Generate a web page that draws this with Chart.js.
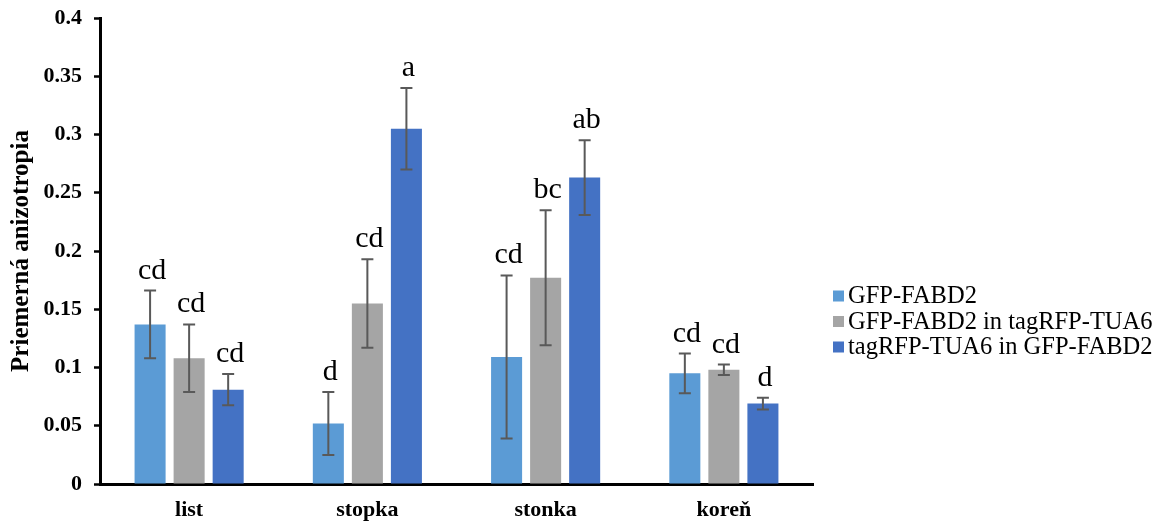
<!DOCTYPE html>
<html>
<head>
<meta charset="utf-8">
<script src="https://cdn.jsdelivr.net/npm/chart.js@4.4.1/dist/chart.umd.min.js"></script>
<style>
  html, body { margin: 0; padding: 0; background: #fff; }
  #wrap { width: 1167px; height: 525px; }
</style>
</head>
<body>
<div id="wrap"><canvas id="myChart" width="1167" height="525"></canvas></div>
<script>
var categories = ["list", "stopka", "stonka", "koreň"];
var seriesNames = ["GFP-FABD2", "GFP-FABD2 in tagRFP-TUA6", "tagRFP-TUA6 in GFP-FABD2"];

var gfpValues = [0.137, 0.052, 0.109, 0.095];
var gfpErrors = [0.029, 0.027, 0.070, 0.017];
var gfpLetters = ["cd", "d", "cd", "cd"];

var gfpTuaValues = [0.108, 0.155, 0.177, 0.098];
var gfpTuaErrors = [0.029, 0.038, 0.058, 0.0045];
var gfpTuaLetters = ["cd", "cd", "bc", "cd"];

var tuaGfpValues = [0.081, 0.305, 0.263, 0.069];
var tuaGfpErrors = [0.0135, 0.035, 0.032, 0.005];
var tuaGfpLetters = ["cd", "a", "ab", "d"];

var yTickLabels = ["0", "0.05", "0.1", "0.15", "0.2", "0.25", "0.3", "0.35", "0.4"];

var colors = ["#5B9BD5", "#A5A5A5", "#4472C4"];
var serif = "'Liberation Serif', 'Times New Roman', serif";

// error bars + significance letters
var errorBars = {
  id: "errorBars",
  afterDatasetsDraw: function (chart) {
    var ctx = chart.ctx;
    var y = chart.scales.y;
    ctx.save();
    chart.data.datasets.forEach(function (ds, di) {
      var meta = chart.getDatasetMeta(di);
      meta.data.forEach(function (bar, i) {
        var v = ds.data[i], e = ds.errors[i];
        var top = y.getPixelForValue(v + e);
        var bot = y.getPixelForValue(v - e);
        ctx.strokeStyle = "#595959";
        ctx.lineWidth = 2;
        ctx.beginPath();
        ctx.moveTo(bar.x, top); ctx.lineTo(bar.x, bot);
        ctx.moveTo(bar.x - 6, top); ctx.lineTo(bar.x + 6, top);
        ctx.moveTo(bar.x - 6, bot); ctx.lineTo(bar.x + 6, bot);
        ctx.stroke();
        ctx.fillStyle = "#000";
        ctx.font = "30px " + serif;
        ctx.textAlign = "center";
        ctx.textBaseline = "alphabetic";
        ctx.fillText(ds.letters[i], bar.x + 2, top - 12);
      });
    });
    ctx.restore();
  }
};

var sideLegend = {
  id: "sideLegend",
  afterDraw: function (chart) {
    var ctx = chart.ctx;
    ctx.save();
    ctx.font = "24.5px " + serif;
    ctx.textBaseline = "middle";
    ctx.textAlign = "left";
    chart.data.datasets.forEach(function (ds, i) {
      var cy = 296 + i * 25.5;
      ctx.fillStyle = ds.backgroundColor;
      ctx.fillRect(833, cy - 5.5, 11, 11);
      ctx.fillStyle = "#000";
      ctx.fillText(ds.label, 848, cy + 1);
    });
    ctx.restore();
  }
};

var myChart = new Chart("myChart", {
  type: "bar",
  data: {
    labels: categories,
    datasets: [
      { label: seriesNames[0], data: gfpValues, errors: gfpErrors, letters: gfpLetters, backgroundColor: colors[0] },
      { label: seriesNames[1], data: gfpTuaValues, errors: gfpTuaErrors, letters: gfpTuaLetters, backgroundColor: colors[1] },
      { label: seriesNames[2], data: tuaGfpValues, errors: tuaGfpErrors, letters: tuaGfpLetters, backgroundColor: colors[2] }
    ]
  },
  options: {
    responsive: false,
    animation: false,
    categoryPercentage: 0.657,
    barPercentage: 0.795,
    layout: { padding: { top: 18, right: 354, bottom: 0, left: 0 } },
    plugins: {
      legend: { display: false },
      tooltip: { enabled: false }
    },
    scales: {
      x: {
        grid: { display: false, drawTicks: false },
        border: { color: "#000", width: 3 },
        ticks: { color: "#000", padding: 13, font: { family: serif, size: 22, weight: "bold" } },
        afterFit: function (s) { s.height = 41; }
      },
      y: {
        min: 0,
        max: 0.4,
        ticks: {
          stepSize: 0.05,
          color: "#000",
          padding: 12,
          font: { family: serif, size: 22, weight: "bold" },
          callback: function (v, i) { return yTickLabels[i]; }
        },
        grid: { drawOnChartArea: false, color: "#000", tickLength: 6, tickWidth: 2.5 },
        border: { color: "#000", width: 3 },
        title: {
          display: true,
          text: "Priemerná anizotropia",
          color: "#000",
          padding: { top: 7, bottom: 0 },
          font: { family: serif, size: 25, weight: "bold" }
        },
        afterFit: function (s) {
          s.width = 100;
          s.paddingTop = 0;
          s.paddingBottom = 0;
        }
      }
    }
  },
  plugins: [errorBars, sideLegend]
});
</script>
</body>
</html>
